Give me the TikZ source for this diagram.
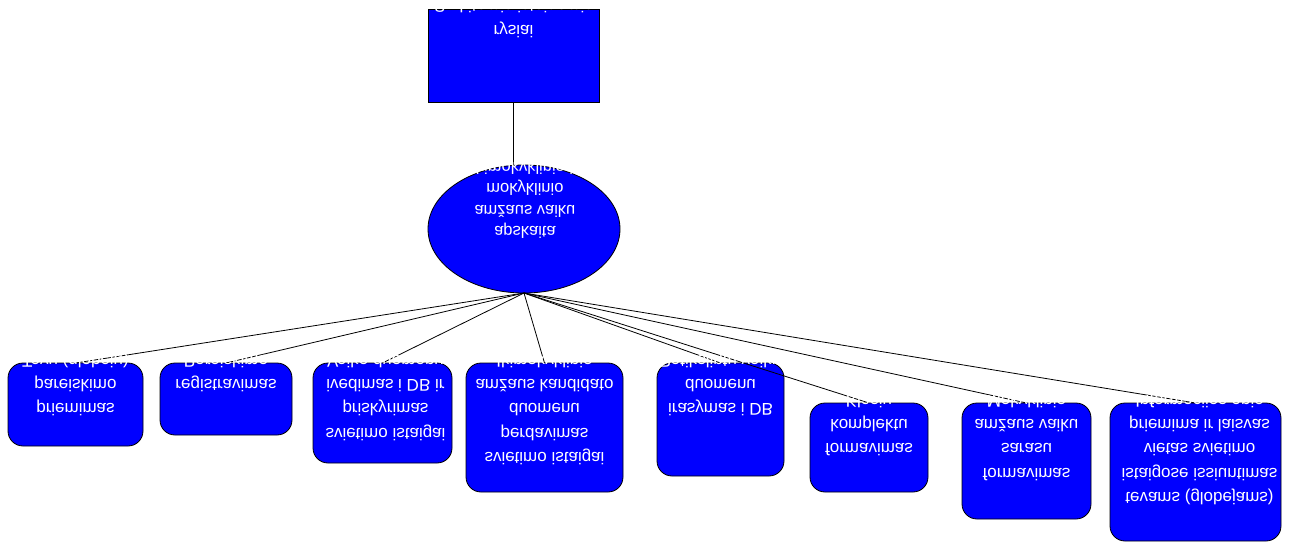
\documentclass[tikz,border=0pt]{standalone}
\usepackage{fontspec}
\setmainfont{Liberation Sans}
\usepackage{graphicx}
\usetikzlibrary{shapes.geometric}
\newcommand\fl[1]{\scalebox{1}[-1]{\rule[-4pt]{0pt}{14pt}#1}}
\definecolor{boxblue}{HTML}{0000FF}
\tikzset{
  conn/.style={draw=black, line width=0.8pt},
  bx/.style={draw=black, fill=boxblue, line width=0.8pt, rounded corners=15pt, inner sep=0pt, outer sep=0pt},
  topbx/.style={draw=black, fill=boxblue, line width=0.8pt, inner sep=0pt, outer sep=0pt},
  ellbx/.style={ellipse, draw=black, fill=boxblue, line width=0.8pt, inner sep=0pt, outer sep=0pt},
  txt/.style={text=white, align=center, inner sep=0pt, anchor=north, font=\fontsize{17}{24.3}\selectfont},
  etxt/.style={text=white, align=center, inner sep=0pt, anchor=north, font=\fontsize{16.5}{21.5}\selectfont},
  ttxt/.style={text=white, align=center, inner sep=0pt, anchor=north, font=\fontsize{17}{25}\selectfont},
}
\begin{document}
\begin{tikzpicture}[x=1pt, y=-1pt]
\useasboundingbox (0,0) rectangle (1293,542);
% connectors first, shapes drawn over their ends
\coordinate (topS) at (513.5,102);
\coordinate (ellS) at (524,293);
\coordinate (ellN) at (513.5,165.5);
\node[topbx, minimum width=171pt, minimum height=93pt] (top) at (513.5,55.5) {};
\node[ellbx, minimum width=192pt, minimum height=128pt] (ell) at (524,229) {};
\node[bx, minimum width=135pt, minimum height=83pt] (b1) at (75.5,404.5) {};
\node[bx, minimum width=132pt, minimum height=72pt] (b2) at (226,399) {};
\node[bx, minimum width=139pt, minimum height=100pt] (b3) at (382.5,413) {};
\node[bx, minimum width=157pt, minimum height=129pt] (b4) at (544.5,427.5) {};
\node[bx, minimum width=127pt, minimum height=113pt] (b5) at (720.5,419.5) {};
\node[bx, minimum width=118pt, minimum height=89pt] (b6) at (869,447.5) {};
\node[bx, minimum width=129pt, minimum height=116pt] (b7) at (1026.5,461) {};
\node[bx, minimum width=171pt, minimum height=138pt] (b8) at (1195.5,472) {};
\draw[conn] (top.south) -- (top.south |- ell.north);
\foreach \b in {b1,b2,b3,b4,b5,b6,b7,b8}{\draw[conn] (ell.south) -- (\b.north);}
% texts
\node[ttxt] (ttop) at ([yshift=13pt]top.north) {\fl{Su kitomis istaigomis}\\\fl{rysiai}};
\node[etxt] (tell) at ([yshift=7pt,xshift=1pt]ell.north) {\fl{Ikimokyklinio ir}\\\fl{mokyklinio}\\\fl{amžaus vaiku}\\\fl{apskaita}};
\node[txt] (t1) at ([yshift=12pt]b1.north) {\fl{Tevu (globeju)}\\\fl{pareiskimo}\\\fl{priemimas}};
\node[txt] (t2) at ([yshift=12pt]b2.north) {\fl{Pareiskimo}\\\fl{registravimas}};
\node[txt] (t3) at ([yshift=12pt,xshift=3pt]b3.north) {\fl{Vaiko duomenu}\\\fl{ivedimas i DB ir}\\\fl{priskyrimas}\\\fl{svietimo istaigai}};
\node[txt] (t4) at ([yshift=12pt]b4.north) {\fl{Ikimokyklinio}\\\fl{amžaus kandidato}\\\fl{duomenu}\\\fl{perdavimas}\\\fl{svietimo istaigai}};
\node[txt] (t5) at ([yshift=12pt]b5.north) {\fl{Patikslintu vaiku}\\\fl{duomenu}\\\fl{irasymas i DB}};
\node[txt] (t6) at ([yshift=12pt]b6.north) {\fl{Klasiu}\\\fl{komplektu}\\\fl{formavimas}};
\node[txt] (t7) at ([yshift=12pt]b7.north) {\fl{Mokyklinio}\\\fl{amžaus vaiku}\\\fl{sarasu}\\\fl{formavimas}};
\node[txt] (t8) at ([yshift=12pt,xshift=4pt]b8.north) {\fl{Informacijos apie}\\\fl{priemima ir laisvas}\\\fl{vietas svietimo}\\\fl{istaigose issiuntimas}\\\fl{tevams (globejams)}};
\end{tikzpicture}
\end{document}
